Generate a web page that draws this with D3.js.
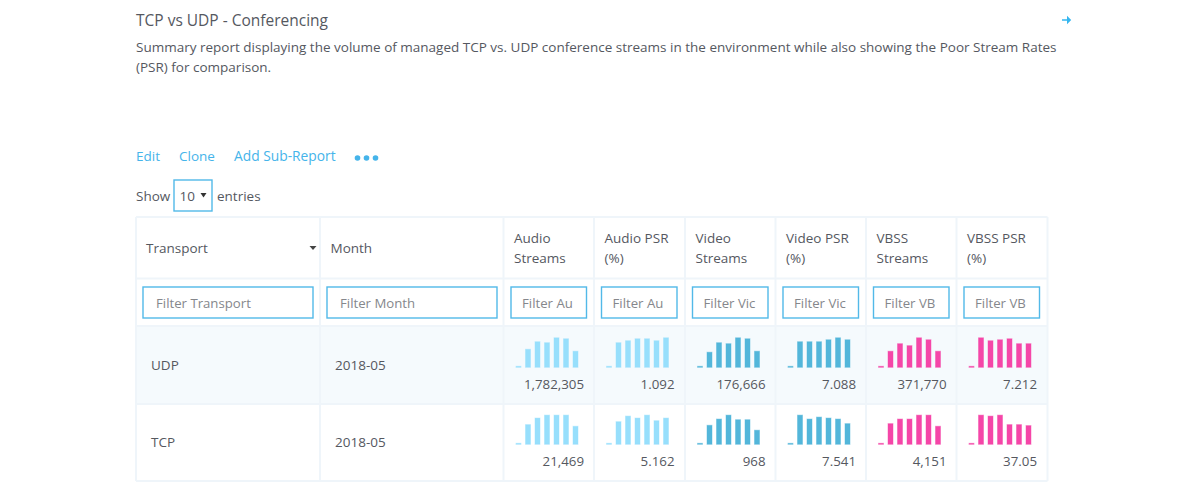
<!doctype html>
<html lang="en">
<head>
<meta charset="UTF-8">
<title>TCP vs UDP - Conferencing</title>
<script src="https://cdn.jsdelivr.net/npm/d3@7"></script>
<style>
  html, body { margin: 0; background: #fff; }
  svg { display: block; }
  text { font-family: "Open Sans", sans-serif; font-size: 13.5px; fill: #55585f; }
  .link { fill: #45b4ea; }
  .grid { stroke: #eff5fa; stroke-width: 2; }
  .box { fill: #fff; stroke: #52b9e8; stroke-width: 1.4; }
  .placeholder { fill: #85878c; font-size: 13.2px; }
  .desc { font-size: 13.5px; }
  .num { font-size: 13.3px; }
</style>
</head>
<body>
<script>
  const title = "TCP vs UDP - Conferencing";
  const description = [
    "Summary report displaying the volume of managed TCP vs. UDP conference streams in the environment while also showing the Poor Stream Rates",
    "(PSR) for comparison."
  ];
  const actions = ["Edit", "Clone", "Add Sub-Report"];
  const transports = ["UDP", "TCP"];
  const months = ["2018-05", "2018-05"];
  const headers = [["Audio", "Streams"], ["Audio PSR", "(%)"], ["Video", "Streams"], ["Video PSR", "(%)"], ["VBSS", "Streams"], ["VBSS PSR", "(%)"]];
  const filters = ["Filter Au", "Filter Au", "Filter Vic", "Filter Vic", "Filter VB", "Filter VB"];
  const metricColors = ["#97dffc", "#97dffc", "#53b6da", "#53b6da", "#f546a8", "#f546a8"];
  const barSlots = ["m1", "m2", "m3", "m4", "m5", "m6", "m7"];

  const udpLabels = ["1,782,305", "1.092", "176,666", "7.088", "371,770", "7.212"];
  const tcpLabels = ["21,469", "5.162", "968", "7.541", "4,151", "37.05"];

  // sparkline heights, each cell scaled to 0-90
  const udpBars = [
    [3, 55, 78, 75, 90, 87, 49],
    [3, 75, 81, 87, 87, 81, 90],
    [3, 46, 75, 72, 90, 87, 49],
    [3, 78, 78, 78, 84, 90, 84],
    [3, 49, 72, 66, 90, 84, 49],
    [3, 90, 81, 84, 87, 72, 72]
  ];
  const tcpBars = [
    [3, 60, 80, 89, 89, 89, 55],
    [3, 69, 86, 80, 89, 72, 80],
    [3, 58, 77, 89, 75, 75, 43],
    [3, 89, 77, 83, 80, 77, 63],
    [3, 63, 77, 77, 89, 89, 55],
    [3, 89, 86, 89, 60, 60, 57]
  ];

  const width = 1200, height = 500;
  const svg = d3.select("body").append("svg").attr("width", width).attr("height", height);

  // header block
  svg.append("text").attr("x", 136).attr("y", 26).style("font-size", "15.5px").text(title);
  svg.selectAll(".desc").data(description).enter().append("text")
    .attr("class", "desc").attr("x", 136).attr("y", (d, i) => 52 + i * 20).text(d => d);

  // arrow top right
  svg.append("path").attr("d", "M1062 19.2h5v-3.4l4.2 4.2-4.2 4.2v-3.4h-5z").attr("fill", "#35b6ef");

  const actionX = [136, 179, 234];
  svg.selectAll(".action").data(actions).enter().append("text")
    .attr("class", "link").attr("x", (d, i) => actionX[i]).attr("y", 161)
    .style("font-size", (d, i) => i === 2 ? "13.8px" : "13.5px").text(d => d);
  svg.selectAll(".dot").data([357.5, 366.5, 375.5]).enter().append("circle")
    .attr("class", "link").attr("cx", d => d).attr("cy", 158).attr("r", 2.8);

  // show entries
  svg.append("text").attr("x", 136).attr("y", 201).text("Show");
  svg.append("rect").attr("class", "box").attr("x", 174).attr("y", 180).attr("width", 38).attr("height", 31);
  svg.append("text").attr("x", 179.5).attr("y", 201).text("10");
  svg.append("path").attr("d", "M200.5 193h6l-3 4.5z").attr("fill", "#333");
  svg.append("text").attr("x", 217).attr("y", 201).text("entries");

  // table frame
  const colEdges = [136, 320, 503.5, 594, 685, 775.5, 866, 956.5, 1047.5];
  const rowEdges = [217, 278.5, 326, 404, 481];

  svg.append("rect").attr("x", 136).attr("y", 326).attr("width", 911.5).attr("height", 78).attr("fill", "#f5fafd");
  svg.selectAll(".hline").data(rowEdges).enter().append("line")
    .attr("class", "grid hline").attr("x1", 136).attr("x2", 1047.5).attr("y1", d => d).attr("y2", d => d);
  svg.selectAll(".vline").data(colEdges).enter().append("line")
    .attr("class", "grid vline").attr("x1", d => d).attr("x2", d => d).attr("y1", 217).attr("y2", 481);

  // fixed columns
  svg.append("text").attr("x", 146).attr("y", 253).text("Transport");
  svg.append("path").attr("d", "M309.5 246h7l-3.5 4z").attr("fill", "#444");
  svg.append("text").attr("x", 330.5).attr("y", 253).text("Month");

  // header labels of the metric columns
  const metricLeft = colEdges.slice(2, 8);
  headers.forEach((lines, i) => {
    svg.selectAll(null).data(lines).enter().append("text")
      .attr("x", metricLeft[i] + 10.5).attr("y", (d, j) => 243 + j * 20).text(d => d);
  });

  // filter inputs, placeholders are clipped like in a real input
  const inputs = [
    {x: 143, w: 170, label: "Filter Transport"},
    {x: 327, w: 170, label: "Filter Month"}
  ].concat(filters.map((label, i) => ({x: metricLeft[i] + 7.5, w: 75.5, label})));

  const defs = svg.append("defs");
  inputs.forEach((d, i) => {
    defs.append("clipPath").attr("id", "clip" + i).append("rect")
      .attr("x", d.x + 4).attr("y", 287).attr("width", d.w - 14).attr("height", 31);
    svg.append("rect").attr("class", "box").attr("x", d.x).attr("y", 287).attr("width", d.w).attr("height", 31);
    svg.append("text").attr("class", "placeholder").attr("clip-path", `url(#clip${i})`)
      .attr("x", d.x + 13 - (i > 1 ? 2 : 0)).attr("y", 308).text(d.label);
  });

  // sparklines
  const xBand = d3.scaleBand().domain(barSlots).range([0, 62]).paddingInner(0.474);
  const yBar = d3.scaleLinear().domain([0, 90]).range([29.5, 0]);

  const rows = [
    {name: transports[0], month: months[0], bars: udpBars, labels: udpLabels, top: 337.8},
    {name: transports[1], month: months[1], bars: tcpBars, labels: tcpLabels, top: 414.8}
  ];

  rows.forEach(row => {
    svg.append("text").attr("x", 151).attr("y", row.top + 32).text(row.name);
    svg.append("text").attr("x", 335).attr("y", row.top + 32).text(row.month);

    row.bars.forEach((values, c) => {
      const g = svg.append("g").attr("transform", `translate(${metricLeft[c] + 12.5},${row.top})`);
      g.selectAll("rect").data(values).enter().append("rect")
        .attr("x", (d, i) => xBand(barSlots[i]))
        .attr("y", d => yBar(d))
        .attr("width", xBand.bandwidth())
        .attr("height", d => yBar(0) - yBar(d))
        .attr("fill", metricColors[c])
        .attr("stroke", metricColors[c])
        .attr("stroke-opacity", 0.45);
      svg.append("text").attr("class", "num").attr("text-anchor", "end")
        .attr("x", metricLeft[c] + 80.5).attr("y", row.top + 51).text(row.labels[c]);
    });
  });
</script>
</body>
</html>
